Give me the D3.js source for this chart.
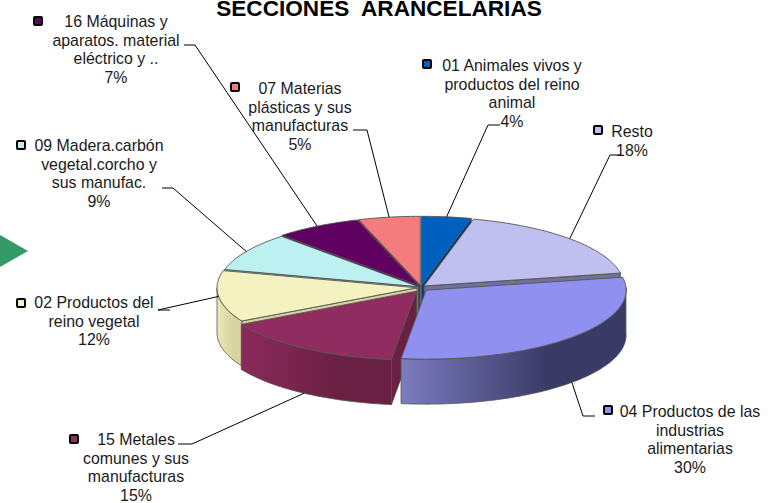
<!DOCTYPE html>
<html><head><meta charset="utf-8">
<script src="https://cdn.jsdelivr.net/npm/d3@7"></script>
<style>html,body{margin:0;padding:0;background:#fff}svg{display:block}text{font-family:"Liberation Sans",Arial,sans-serif}</style>
</head><body><svg id="c" width="780" height="503"></svg>
<script>
const titleText = "SECCIONES  ARANCELARIAS";
const categories = ["01 Animales vivos y|productos del reino|animal","Resto","04 Productos de las|industrias|alimentarias","15 Metales|comunes y sus|manufacturas","02 Productos del|reino vegetal","09 Madera.carbón|vegetal.corcho y|sus manufac.","16 Máquinas y|aparatos. material|eléctrico y ..","07 Materias|plásticas y sus|manufacturas"];
const values = [4,18,30,15,12,9,7,5];
const topColors = ["#0060c0","#c0c0f0","#9090f0","#902c60","#f4f2c0","#bdf1f1","#600060","#f47c7c"];
const wallLight = ["#0050a0","#a0a0c8","#7c7cc0","#8a2a5c","#ece8b8","#a0d0d0","#500050","#c86060"];
const wallDark = ["#003c78","#707098","#3a3a66","#6a2042","#d8d4a0","#80b0b0","#400040","#6a3030"];
// layout, per category: label centre x, first baseline y, key x,y, elbow and leader start
const labelX = [512,632,690,136,94,99,116,300];
const labelY = [71,137,417,445,308,151,27,94];
const keyX = [427,598,608,74,21,21,38,235];
const keyY = [64,130,410,439,303,145,21,87];
const elbowX = [488,610,583,192,158,173,195,367];
const elbowY = [125,155,416,444,310,188,45,130];
const stubX = [500,621,595,178,170,162,184,353];
const explode = [4,4,7,8,4,3,4,4];

const svg = d3.select("#c");
const defs = svg.append("defs");
const cx=421, cy=287.5, rx=200, ry=69, depth=45;
const sx=d3.scaleLinear().domain([-1,1]).range([cx-rx,cx+rx]);
const sy=d3.scaleLinear().domain([-1,1]).range([cy-ry,cy+ry]);
const pie=d3.pie().sort(null).value(d=>d)(values);

svg.append("path").attr("d",d3.line()([[0,235],[28,251],[0,267]])+"Z").attr("fill","#339966");
svg.append("text").attr("x",379).attr("y",16).attr("text-anchor","middle")
  .attr("font-size",22.6).attr("font-weight","bold").attr("fill","#000").style("white-space","pre").text(titleText);

const line=d3.line();
function unit(a){return [Math.sin(a),-Math.cos(a)];}
const slices=pie.map((p,i)=>{
  const mid=(p.startAngle+p.endAngle)/2;
  const [ux,uy]=unit(mid);
  const off=explode[i]/rx;
  const ox=ux*off, oy=uy*off*1.6;
  const pt=(a,r=1)=>{const [x,y]=unit(a);return [sx(ox+x*r),sy(oy+y*r)];};
  const n=Math.max(4,Math.round((p.endAngle-p.startAngle)*40));
  const rim=d3.range(n+1).map(k=>pt(p.startAngle+(p.endAngle-p.startAngle)*k/n));
  return {i,p,mid,pt,rim,apex:[sx(ox),sy(oy)]};
});
function grad(id,c1,c2,x1,x2){
  const g=defs.append("linearGradient").attr("id",id).attr("gradientUnits","userSpaceOnUse").attr("x1",x1).attr("x2",x2).attr("y1",0).attr("y2",0);
  g.append("stop").attr("offset",0).attr("stop-color",c1);
  g.append("stop").attr("offset",0.65).attr("stop-color",c2);
  g.append("stop").attr("offset",1).attr("stop-color",c2);
}
const order=[7,6,0,1,5,4,3,2];
const edge="#555";
order.forEach(i=>{
  const s=slices[i];
  const down=q=>[q[0],q[1]+depth];
  const first=s.rim[0], last=s.rim[s.rim.length-1];
  // cut faces that turn towards the viewer
  if(Math.sin(s.p.startAngle)<-0.01)
    svg.append("path").attr("d",line([s.apex,first,down(first),down(s.apex)])+"Z")
      .attr("fill",wallDark[i]).attr("stroke","#444").attr("stroke-width",0.8);
  if(Math.sin(s.p.endAngle)>0.01)
    svg.append("path").attr("d",line([s.apex,last,down(last),down(s.apex)])+"Z")
      .attr("fill",wallDark[i]).attr("stroke","#444").attr("stroke-width",0.8);
  // outer wall, front half only
  const vis=s.rim.filter(q=>q[1]>=cy-1);
  if(vis.length>1){
    const x0=d3.min(vis,q=>q[0]),x1=d3.max(vis,q=>q[0]);
    grad("w"+i,wallLight[i],wallDark[i],x0,x1);
    svg.append("path").attr("d",line(vis.concat(vis.slice().reverse().map(down)))+"Z")
      .attr("fill","url(#w"+i+")").attr("stroke",edge).attr("stroke-width",0.8);
  }
  svg.append("path").attr("d",line([s.apex].concat(s.rim))+"Z")
    .attr("fill",topColors[i]).attr("stroke",edge).attr("stroke-width",0.9).attr("stroke-linejoin","round");
});
// leaders
slices.forEach(s=>{
  const i=s.i;
  const end=s.pt(s.mid);
  const p=(i===2||i===3)?[end[0],end[1]+depth]:end;
  svg.append("path").attr("d",line([[stubX[i],elbowY[i]],[elbowX[i],elbowY[i]],p]))
    .attr("fill","none").attr("stroke","#000").attr("stroke-width",1);
});
// labels
categories.forEach((c,i)=>{
  const lines=c.split("|").concat(values[i]+"%");
  const t=svg.append("text").attr("text-anchor","middle").attr("font-size",15.9).attr("fill","#1a1a1a");
  lines.forEach((l,k)=>t.append("tspan").attr("x",labelX[i]).attr("y",labelY[i]+k*18.5).text(l));
  svg.append("rect").attr("x",keyX[i]-4).attr("y",keyY[i]-4).attr("width",8).attr("height",8).attr("rx",1)
    .attr("fill",topColors[i]).attr("stroke","#000").attr("stroke-width",2);
});
</script></body></html>
